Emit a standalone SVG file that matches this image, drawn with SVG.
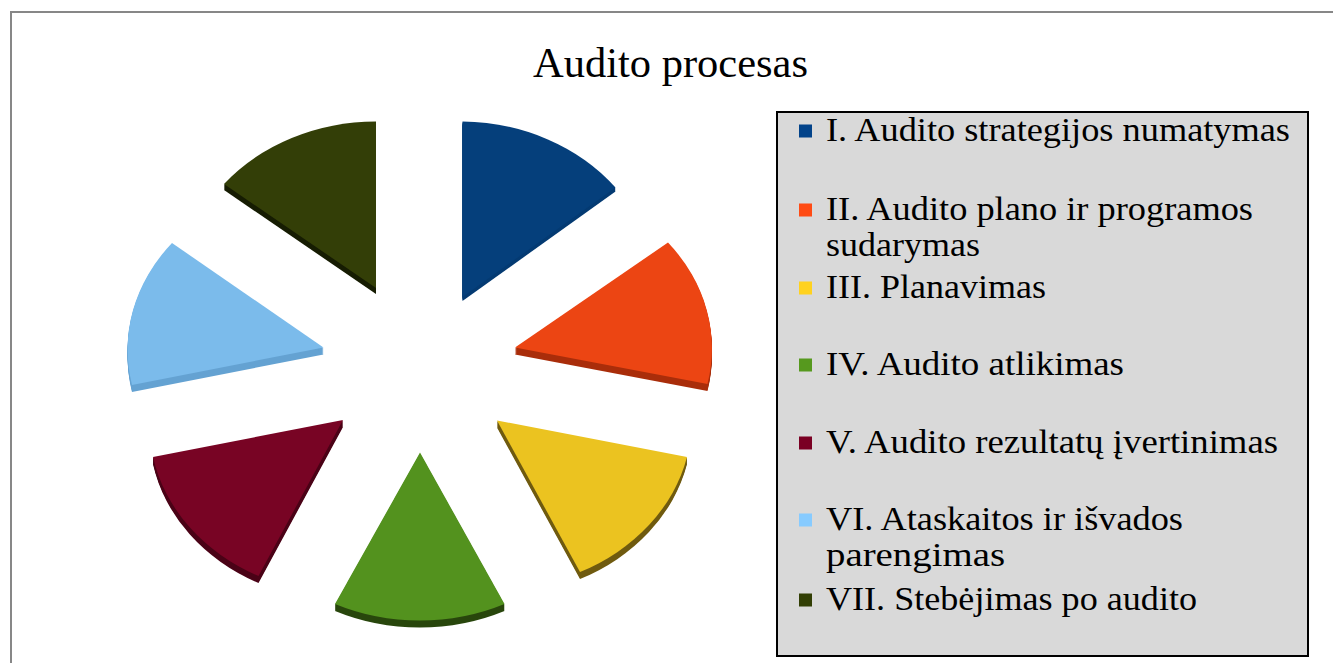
<svg xmlns="http://www.w3.org/2000/svg" xmlns:xlink="http://www.w3.org/1999/xlink" width="1333" height="663" viewBox="0 0 1333 663">
<style>
.frame{fill:none;stroke:#878787;stroke-width:2}
.title{font-family:"Liberation Serif","Times New Roman",serif;font-size:42px;fill:#000}
.leg{font-family:"Liberation Serif","Times New Roman",serif;font-size:33px;fill:#000}
.legbox{fill:#d9d9d9;stroke:#000;stroke-width:2}
</style>
<defs>
<path id="p1" d="M462.5,297 L462.5,121.5 A196,168 0 0 1 615.5,187.5 Z"/>
<path id="p2" d="M515,347.5 L668,242.5 A196,168 0 0 1 707.5,384 Z"/>
<path id="p3" d="M497,420.5 L687,457 A196,168 0 0 1 580,572 Z"/>
<path id="p4" d="M420,452.5 L504.5,604 A196,168 0 0 1 335,604 Z"/>
<path id="p5" d="M343,420 L258.5,576 A196,168 0 0 1 153,457 Z"/>
<path id="p6" d="M323.5,347.5 L132,385 A196,168 0 0 1 172,243 Z"/>
<path id="p7" d="M376,288 L224,184 A196,168 0 0 1 376,121.5 Z"/>
</defs>
<rect width="1333" height="663" fill="#fff"/>
<path class="frame" d="M11,663 V12 H1333"/>
<text class="title" x="533" y="77" textLength="275" lengthAdjust="spacingAndGlyphs">Audito procesas</text>

<g id="slice-I">
<g fill="#043a72"><use xlink:href="#p1" y="1"/><use xlink:href="#p1" y="2"/><use xlink:href="#p1" y="3"/><use xlink:href="#p1" y="4"/></g>
<use xlink:href="#p1" fill="#053f7b"/>
</g>
<g id="slice-II">
<g fill="#a92d0a"><use xlink:href="#p2" y="1"/><use xlink:href="#p2" y="2"/><use xlink:href="#p2" y="3"/><use xlink:href="#p2" y="4"/><use xlink:href="#p2" y="5"/><use xlink:href="#p2" y="6"/><use xlink:href="#p2" y="7"/></g>
<use xlink:href="#p2" fill="#ec4513"/>
</g>
<g id="slice-III">
<g fill="#6f5a0f"><use xlink:href="#p3" y="1"/><use xlink:href="#p3" y="2"/><use xlink:href="#p3" y="3"/><use xlink:href="#p3" y="4"/><use xlink:href="#p3" y="5"/><use xlink:href="#p3" y="6"/><use xlink:href="#p3" y="7"/></g>
<use xlink:href="#p3" fill="#ebc320"/>
</g>
<g id="slice-IV">
<g fill="#28460c"><use xlink:href="#p4" y="1"/><use xlink:href="#p4" y="2"/><use xlink:href="#p4" y="3"/><use xlink:href="#p4" y="4"/><use xlink:href="#p4" y="5"/><use xlink:href="#p4" y="6"/><use xlink:href="#p4" y="7"/></g>
<use xlink:href="#p4" fill="#53921e"/>
</g>
<g id="slice-V">
<g fill="#4a0216"><use xlink:href="#p5" y="1"/><use xlink:href="#p5" y="2"/><use xlink:href="#p5" y="3"/><use xlink:href="#p5" y="4"/><use xlink:href="#p5" y="5"/><use xlink:href="#p5" y="6"/><use xlink:href="#p5" y="7"/></g>
<use xlink:href="#p5" fill="#780424"/>
</g>
<g id="slice-VI">
<g fill="#64a2d2"><use xlink:href="#p6" y="1"/><use xlink:href="#p6" y="2"/><use xlink:href="#p6" y="3"/><use xlink:href="#p6" y="4"/><use xlink:href="#p6" y="5"/><use xlink:href="#p6" y="6"/><use xlink:href="#p6" y="7"/></g>
<use xlink:href="#p6" fill="#7bbbeb"/>
</g>
<g id="slice-VII">
<g fill="#161c02"><use xlink:href="#p7" y="1"/><use xlink:href="#p7" y="2"/><use xlink:href="#p7" y="3"/><use xlink:href="#p7" y="4"/><use xlink:href="#p7" y="5"/><use xlink:href="#p7" y="6"/></g>
<use xlink:href="#p7" fill="#333e07"/>
</g>

<g id="legend">
<rect class="legbox" x="777" y="112" width="531" height="544"/>
<rect x="799" y="124.5" width="13" height="13" fill="#02438a"/>
<text class="leg" x="826" y="141" textLength="464" lengthAdjust="spacingAndGlyphs">I. Audito strategijos numatymas</text>
<rect x="799" y="203.5" width="13" height="13" fill="#ff4b14"/>
<text class="leg" x="826" y="220" textLength="427" lengthAdjust="spacingAndGlyphs">II. Audito plano ir programos</text>
<text class="leg" x="826" y="256" textLength="154" lengthAdjust="spacingAndGlyphs">sudarymas</text>
<rect x="799" y="281.5" width="13" height="13" fill="#ffd21f"/>
<text class="leg" x="826" y="298" textLength="220" lengthAdjust="spacingAndGlyphs">III. Planavimas</text>
<rect x="799" y="358.5" width="13" height="13" fill="#56991e"/>
<text class="leg" x="826" y="375" textLength="298" lengthAdjust="spacingAndGlyphs">IV. Audito atlikimas</text>
<rect x="799" y="436.5" width="13" height="13" fill="#7a0023"/>
<text class="leg" x="826" y="453" textLength="452" lengthAdjust="spacingAndGlyphs">V. Audito rezultatų įvertinimas</text>
<rect x="799" y="513.5" width="13" height="13" fill="#87cbff"/>
<text class="leg" x="826" y="530" textLength="357" lengthAdjust="spacingAndGlyphs">VI. Ataskaitos ir išvados</text>
<text class="leg" x="826" y="566" textLength="179" lengthAdjust="spacingAndGlyphs">parengimas</text>
<rect x="799" y="593.5" width="13" height="13" fill="#323f05"/>
<text class="leg" x="826" y="610" textLength="371" lengthAdjust="spacingAndGlyphs">VII. Stebėjimas po audito</text>
</g>
</svg>
